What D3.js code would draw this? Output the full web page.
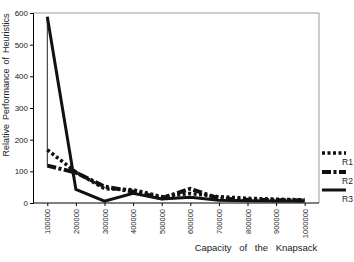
<!DOCTYPE html>
<html>
<head>
<meta charset="utf-8">
<script src="https://cdn.jsdelivr.net/npm/d3@7.9.0/dist/d3.min.js"></script>
<style>
  body { margin: 0; background: #fff; }
  svg { display: block; font-family: "Liberation Sans", Arial, sans-serif; }
</style>
</head>
<body>
<svg id="chart" width="354" height="262"></svg>
<script>
const capacities = ["100000", "200000", "300000", "400000", "500000",
                    "600000", "700000", "800000", "900000", "1000000"];
const r1 = [168, 98, 45, 42, 20, 30, 20, 15, 12, 10];
const r2 = [118, 96, 52, 36, 15, 45, 14, 10, 9, 8];
const r3 = [588, 43, 6, 31, 13, 18, 9, 7, 6, 6];
const yTicks = [0, 100, 200, 300, 400, 500, 600];

const series = [
  { name: "R1", values: r1, width: 3.5, dash: "3,2.5" },
  { name: "R2", values: r2, width: 4, dash: "9,2.5,3,2.5" },
  { name: "R3", values: r3, width: 3, dash: null }
];

const svg = d3.select("#chart");
const plotL = 33, plotR = 319, plotT = 13, plotB = 203;

const x = d3.scalePoint().domain(capacities).range([plotL, plotR]).padding(0.5);
const y = d3.scaleLinear().domain([0, 600]).range([plotB, plotT]);

// plot border (top and right)
svg.append("path")
  .attr("d", `M${plotL},${plotT}H${plotR}V${plotB}`)
  .attr("fill", "none").attr("stroke", "#9a9a9a").attr("stroke-width", 1);

// y axis
const yAxis = svg.append("g").attr("transform", `translate(${plotL},0)`)
  .call(d3.axisLeft(y).tickValues(yTicks).tickSize(3).tickPadding(2));
yAxis.select(".domain").attr("stroke", "#000");
yAxis.selectAll("text").attr("font-size", 8).attr("fill", "#222");

// x axis
const xAxis = svg.append("g").attr("transform", `translate(0,${plotB})`)
  .call(d3.axisBottom(x).tickSize(3).tickSizeOuter(0));
xAxis.select(".domain").attr("d", `M${plotL},0H${plotR}`).attr("stroke", "#000");
xAxis.selectAll("text")
  .attr("font-size", 7.5).attr("fill", "#222")
  .attr("transform", "rotate(-90)")
  .attr("text-anchor", "end")
  .attr("x", -6).attr("y", 0).attr("dy", "0.35em");

// thin line at first category spanning the series
const first = series.map(s => s.values[0]);
svg.append("line")
  .attr("x1", x(capacities[0])).attr("x2", x(capacities[0]))
  .attr("y1", y(d3.max(first))).attr("y2", y(d3.min(first)))
  .attr("stroke", "#222").attr("stroke-width", 1);

const line = d3.line().x((d, i) => x(capacities[i])).y(d => y(d));

series.forEach(s => {
  svg.append("path")
    .attr("d", line(s.values))
    .attr("fill", "none").attr("stroke", "#111")
    .attr("stroke-width", s.width)
    .attr("stroke-dasharray", s.dash)
    .attr("stroke-linejoin", "miter");
});

// legend
const legendY = [153, 172, 190];
series.forEach((s, i) => {
  svg.append("line")
    .attr("x1", 322).attr("x2", 346)
    .attr("y1", legendY[i]).attr("y2", legendY[i])
    .attr("stroke", "#111").attr("stroke-width", s.width)
    .attr("stroke-dasharray", s.dash);
  svg.append("text")
    .attr("x", 342).attr("y", legendY[i] + 12)
    .attr("font-size", 8.5).attr("fill", "#222")
    .text(s.name);
});

// axis titles
svg.append("text")
  .attr("x", 256).attr("y", 251)
  .attr("text-anchor", "middle")
  .attr("font-size", 9.5).attr("fill", "#222")
  .attr("word-spacing", 5)
  .text("Capacity of the Knapsack");

svg.append("text")
  .attr("transform", "translate(9,85) rotate(-90)")
  .attr("text-anchor", "middle")
  .attr("font-size", 9).attr("fill", "#222")
  .attr("word-spacing", 1.5)
  .text("Relative Performance of Heuristics");
</script>
</body>
</html>
